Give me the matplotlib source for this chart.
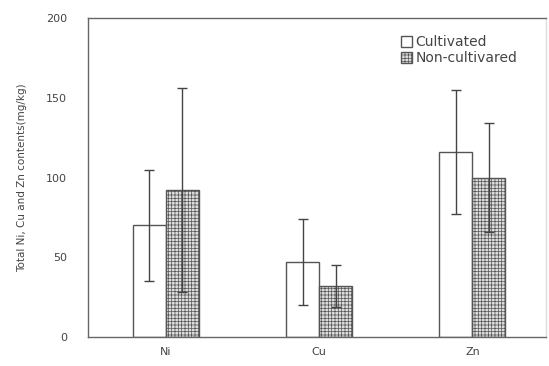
import numpy as np
import matplotlib
matplotlib.use("Agg")
import matplotlib.pyplot as plt
from matplotlib.patches import Patch

plt.rcParams['font.family'] = ['DejaVu Sans']
plt.rcParams['hatch.color'] = '#b0b0b0'
plt.rcParams['hatch.linewidth'] = 0.5

metals = ["Ni", "Cu", "Zn"]
cultivated = [70, 47, 116]
cultivated_sd = [35, 27, 39]
non_cultivated = [92, 32, 100]
non_cultivated_sd = [64, 13, 34]
y_ticks = [0, 50, 100, 150, 200]

edge = "#555555"
fill = "#dcdcdc"
x = np.arange(len(metals))
w = 0.215

fig = plt.figure(figsize=(5.49, 3.66), dpi=100)
ax = fig.add_axes([88 / 549, 1 - 337 / 366, (546 - 88) / 549, (337 - 18) / 366])

ax.bar(x - w / 2, cultivated, w, color="white", edgecolor=edge, linewidth=1.0,
       yerr=cultivated_sd, capsize=3.5,
       error_kw=dict(ecolor="#444444", elinewidth=1.0, capthick=1.0))
ax.bar(x + w / 2, non_cultivated, w, color=fill, edgecolor=edge, linewidth=1.0,
       hatch="+++++", yerr=non_cultivated_sd, capsize=3.5,
       error_kw=dict(ecolor="#444444", elinewidth=1.0, capthick=1.0))

ax.set_xlim(-0.508, 2.48)
ax.set_ylim(0, 200)
ax.set_yticks(y_ticks)
ax.set_xticks(x)
ax.set_xticklabels(metals)
ax.tick_params(axis="both", length=0, labelsize=8, colors="#444444")
ax.tick_params(axis="y", pad=15)
ax.tick_params(axis="x", pad=7)
for s in ax.spines.values():
    s.set_color("#666666")
    s.set_linewidth(1.0)
ax.spines["right"].set_color("#dddddd")

ax.set_ylabel("Total Ni, Cu and Zn contents(mg/kg)", fontsize=7.5, color="#444444",
              labelpad=14)

handles = [Patch(facecolor="white", edgecolor=edge, linewidth=1.0),
           Patch(facecolor=fill, edgecolor=edge, linewidth=1.0, hatch="+++++")]
ax.legend(handles, ["Cultivated", "Non-cultivared"], loc="upper right",
          bbox_to_anchor=(0.965, 0.985), frameon=False, fontsize=10,
          handlelength=0.8, handleheight=0.8, handletextpad=0.25,
          labelspacing=0.15, labelcolor="#444444")

fig.savefig("out.png", dpi=100)
